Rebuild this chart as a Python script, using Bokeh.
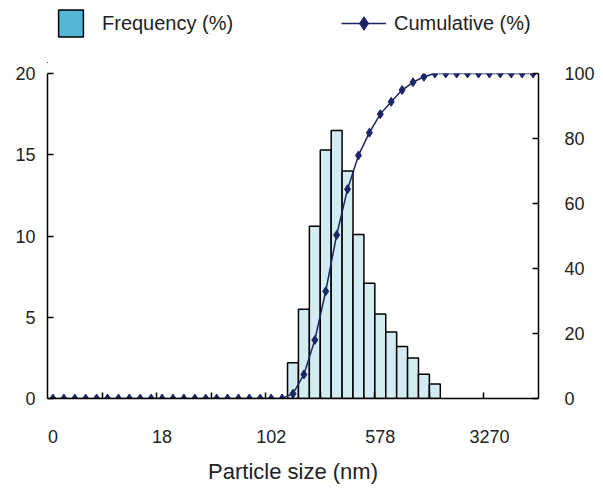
from bokeh.plotting import figure
from bokeh.layouts import column
from bokeh.models import Range1d, LinearAxis, FixedTicker, Legend, LegendItem, ColumnDataSource
from bokeh.embed import file_html
from bokeh.resources import INLINE

FONT = "Liberation Sans"

# ---- data ----
size_bins = list(range(45))  # size classes, in order
frequency = [0, 0, 0, 0, 0, 0, 0, 0, 0, 0, 0, 0, 0, 0, 0, 0, 0, 0, 0, 0, 0, 0,
             2.2, 5.5, 10.6, 15.3, 16.5, 14.0, 10.1, 7.1, 5.2, 4.1, 3.2, 2.5, 1.5, 0.9,
             0, 0, 0, 0, 0, 0, 0, 0, 0]
cumulative = [0, 0, 0, 0, 0, 0, 0, 0, 0, 0, 0, 0, 0, 0, 0, 0, 0, 0, 0, 0, 0, 0,
              1.5, 7.4, 18.0, 33.0, 50.3, 64.4, 74.8, 81.8, 87.5, 91.3, 94.9, 97.3, 99.0, 100.0,
              100, 100, 100, 100, 100, 100, 100, 100, 100]
size_labels = ["0", "18", "102", "578", "3270"]
size_label_bins = [0, 10, 20, 30, 40]
freq_ticks = [0, 5, 10, 15, 20]
cum_ticks = [0, 20, 40, 60, 80, 100]

bar_src = ColumnDataSource(dict(
    x=[b for b, f in zip(size_bins, frequency) if f > 0],
    top=[f for f in frequency if f > 0],
))
cum_src = ColumnDataSource(dict(x=size_bins, y=cumulative))

NAVY = "#1c2566"
TXT = "#222222"

# ---------------- main chart ----------------
p = figure(width=600, height=427, output_backend="svg", toolbar_location=None,
           x_range=Range1d(size_bins[0] - 0.5, size_bins[-1] + 0.5),
           y_range=Range1d(0, 20),
           min_border_left=47, min_border_right=62, min_border_top=10, min_border_bottom=92)
p.extra_y_ranges = {"cum": Range1d(0, 100)}
p.outline_line_color = None
p.xgrid.visible = False
p.ygrid.visible = False

p.vbar(x="x", top="top", width=1, source=bar_src,
       fill_color="#d3ecf2", line_color="black", line_width=1.5)
p.line(x="x", y="y", source=cum_src, y_range_name="cum", line_color=NAVY, line_width=1.5)
p.scatter(x="x", y="y", source=cum_src, y_range_name="cum", marker="diamond",
          size=9, fill_color=NAVY, line_color=NAVY)

xa = p.xaxis[0]
xa.ticker = FixedTicker(ticks=size_label_bins,
                        minor_ticks=[b - 0.5 for b in size_bins[5:45:5]])
xa.major_label_overrides = {b: l for b, l in zip(size_label_bins, size_labels)}
xa.major_tick_line_color = None
xa.major_tick_out = 0
xa.major_tick_in = 0
xa.minor_tick_in = 6
xa.minor_tick_out = 0
xa.minor_tick_line_color = "black"
xa.minor_tick_line_width = 1.5
xa.major_label_standoff = 31
xa.axis_label = "Particle size (nm)"
xa.axis_label_standoff = 13
xa.axis_label_text_font = FONT
xa.axis_label_text_font_style = "normal"
xa.axis_label_text_font_size = "22px"
xa.axis_label_text_color = TXT

ya = p.yaxis[0]
ya.ticker = FixedTicker(ticks=freq_ticks)
ya.major_label_standoff = 12
ya.minor_tick_line_color = None

ra = LinearAxis(y_range_name="cum", ticker=FixedTicker(ticks=cum_ticks))
ra.major_label_standoff = 26
ra.minor_tick_line_color = None
p.add_layout(ra, "right")

for ax in [xa, ya, ra]:
    ax.axis_line_color = "black"
    ax.axis_line_width = 1.5
    ax.major_label_text_font = FONT
    ax.major_label_text_font_size = "18px"
    ax.major_label_text_color = TXT
for ax in [ya, ra]:
    ax.major_tick_in = 6
    ax.major_tick_out = 0
    ax.major_tick_line_color = "black"
    ax.major_tick_line_width = 1.5

# ---------------- legend strip above ----------------
lg = figure(width=600, height=63, output_backend="svg", toolbar_location=None,
            x_axis_type=None, y_axis_type=None,
            x_range=Range1d(1000, 1001), y_range=Range1d(1000, 1001),
            min_border=0)
lg.outline_line_color = None
lg.xgrid.visible = False
lg.ygrid.visible = False
# legend keys (same data, drawn out of this strip's view; only their legend keys show)
key_bar = lg.vbar(x="x", top="top", width=1, source=bar_src,
                  fill_color="#55b7d3", line_color="black", line_width=1.5)
key_line = lg.line(x="x", y="y", source=cum_src, line_color=NAVY, line_width=1.5)
key_dots = lg.scatter(x="x", y="y", source=cum_src, marker="diamond", size=7,
                      fill_color=NAVY, line_color=NAVY)

common = dict(orientation="horizontal", glyph_height=34,
              label_text_font=FONT, label_text_font_size="20px", label_text_color=TXT,
              padding=0, margin=0, border_line_color=None, background_fill_alpha=0)
leg1 = Legend(items=[LegendItem(label="Frequency (%)", renderers=[key_bar])],
              location=(8, 23), glyph_width=31, label_standoff=16, **common)
leg2 = Legend(items=[LegendItem(label="Cumulative (%)", renderers=[key_line, key_dots])],
              location=(294, 23), glyph_width=45, label_standoff=8, **common)
lg.add_layout(leg1, "center")
lg.add_layout(leg2, "center")

layout = column(lg, p, spacing=0)
open("out.html", "w").write(file_html(layout, INLINE))
